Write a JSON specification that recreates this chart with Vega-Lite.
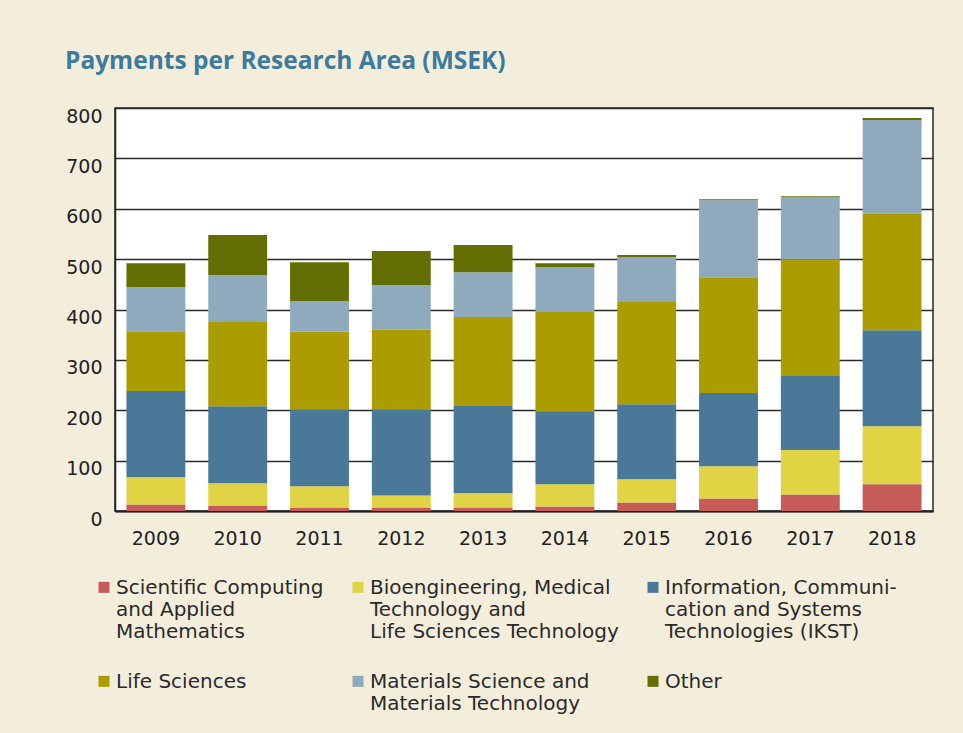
{
  "$schema": "https://vega.github.io/schema/vega-lite/v6.json",
  "width": 818,
  "height": 403,
  "autosize": {"type": "none"},
  "padding": {"left": 115, "top": 108, "right": 30, "bottom": 222},
  "background": "#F3EEDC",
  "title": {
    "text": "Payments per Research Area (MSEK)",
    "anchor": "start",
    "frame": "group",
    "dx": -50,
    "offset": 14,
    "baseline": "alphabetic",
    "font": "Open Sans",
    "fontSize": 24.5,
    "fontWeight": "bold",
    "color": "#3C7B9E"
  },
  "config": {
    "font": "DejaVu Sans",
    "view": {"stroke": "#2A2A2A", "strokeWidth": 1.5, "fill": "white"}
  },
  "data": {
    "values": [
      {"year": "2009", "area": "Scientific Computing|and Applied|Mathematics", "value": 13},
      {"year": "2009", "area": "Bioengineering, Medical|Technology and|Life Sciences Technology", "value": 54},
      {"year": "2009", "area": "Information, Communi-|cation and Systems|Technologies (IKST)", "value": 171},
      {"year": "2009", "area": "Life Sciences", "value": 119},
      {"year": "2009", "area": "Materials Science and|Materials Technology", "value": 87},
      {"year": "2009", "area": "Other", "value": 48},
      {"year": "2010", "area": "Scientific Computing|and Applied|Mathematics", "value": 11},
      {"year": "2010", "area": "Bioengineering, Medical|Technology and|Life Sciences Technology", "value": 44},
      {"year": "2010", "area": "Information, Communi-|cation and Systems|Technologies (IKST)", "value": 153},
      {"year": "2010", "area": "Life Sciences", "value": 167},
      {"year": "2010", "area": "Materials Science and|Materials Technology", "value": 93},
      {"year": "2010", "area": "Other", "value": 80},
      {"year": "2011", "area": "Scientific Computing|and Applied|Mathematics", "value": 7},
      {"year": "2011", "area": "Bioengineering, Medical|Technology and|Life Sciences Technology", "value": 42},
      {"year": "2011", "area": "Information, Communi-|cation and Systems|Technologies (IKST)", "value": 153},
      {"year": "2011", "area": "Life Sciences", "value": 154},
      {"year": "2011", "area": "Materials Science and|Materials Technology", "value": 61},
      {"year": "2011", "area": "Other", "value": 77},
      {"year": "2012", "area": "Scientific Computing|and Applied|Mathematics", "value": 7},
      {"year": "2012", "area": "Bioengineering, Medical|Technology and|Life Sciences Technology", "value": 24},
      {"year": "2012", "area": "Information, Communi-|cation and Systems|Technologies (IKST)", "value": 171},
      {"year": "2012", "area": "Life Sciences", "value": 158},
      {"year": "2012", "area": "Materials Science and|Materials Technology", "value": 88},
      {"year": "2012", "area": "Other", "value": 68},
      {"year": "2013", "area": "Scientific Computing|and Applied|Mathematics", "value": 7},
      {"year": "2013", "area": "Bioengineering, Medical|Technology and|Life Sciences Technology", "value": 28},
      {"year": "2013", "area": "Information, Communi-|cation and Systems|Technologies (IKST)", "value": 175},
      {"year": "2013", "area": "Life Sciences", "value": 175},
      {"year": "2013", "area": "Materials Science and|Materials Technology", "value": 89},
      {"year": "2013", "area": "Other", "value": 54},
      {"year": "2014", "area": "Scientific Computing|and Applied|Mathematics", "value": 9},
      {"year": "2014", "area": "Bioengineering, Medical|Technology and|Life Sciences Technology", "value": 44},
      {"year": "2014", "area": "Information, Communi-|cation and Systems|Technologies (IKST)", "value": 145},
      {"year": "2014", "area": "Life Sciences", "value": 197},
      {"year": "2014", "area": "Materials Science and|Materials Technology", "value": 89},
      {"year": "2014", "area": "Other", "value": 8},
      {"year": "2015", "area": "Scientific Computing|and Applied|Mathematics", "value": 17},
      {"year": "2015", "area": "Bioengineering, Medical|Technology and|Life Sciences Technology", "value": 46},
      {"year": "2015", "area": "Information, Communi-|cation and Systems|Technologies (IKST)", "value": 149},
      {"year": "2015", "area": "Life Sciences", "value": 203},
      {"year": "2015", "area": "Materials Science and|Materials Technology", "value": 89},
      {"year": "2015", "area": "Other", "value": 4},
      {"year": "2016", "area": "Scientific Computing|and Applied|Mathematics", "value": 25},
      {"year": "2016", "area": "Bioengineering, Medical|Technology and|Life Sciences Technology", "value": 64},
      {"year": "2016", "area": "Information, Communi-|cation and Systems|Technologies (IKST)", "value": 145},
      {"year": "2016", "area": "Life Sciences", "value": 230},
      {"year": "2016", "area": "Materials Science and|Materials Technology", "value": 153},
      {"year": "2016", "area": "Other", "value": 2},
      {"year": "2017", "area": "Scientific Computing|and Applied|Mathematics", "value": 33},
      {"year": "2017", "area": "Bioengineering, Medical|Technology and|Life Sciences Technology", "value": 88},
      {"year": "2017", "area": "Information, Communi-|cation and Systems|Technologies (IKST)", "value": 147},
      {"year": "2017", "area": "Life Sciences", "value": 232},
      {"year": "2017", "area": "Materials Science and|Materials Technology", "value": 123},
      {"year": "2017", "area": "Other", "value": 2},
      {"year": "2018", "area": "Scientific Computing|and Applied|Mathematics", "value": 53},
      {"year": "2018", "area": "Bioengineering, Medical|Technology and|Life Sciences Technology", "value": 115},
      {"year": "2018", "area": "Information, Communi-|cation and Systems|Technologies (IKST)", "value": 191},
      {"year": "2018", "area": "Life Sciences", "value": 232},
      {"year": "2018", "area": "Materials Science and|Materials Technology", "value": 185},
      {"year": "2018", "area": "Other", "value": 4}
    ]
  },
  "transform": [
    {"calculate": "indexof(['Scientific Computing|and Applied|Mathematics', 'Bioengineering, Medical|Technology and|Life Sciences Technology', 'Information, Communi-|cation and Systems|Technologies (IKST)', 'Life Sciences', 'Materials Science and|Materials Technology', 'Other'], datum.area)", "as": "stackOrder"}
  ],
  "mark": {"type": "bar"},
  "encoding": {
    "x": {
      "field": "year",
      "type": "ordinal",
      "scale": {"paddingInner": 0.28, "paddingOuter": 0.14},
      "axis": {
        "title": null,
        "labelAngle": 0,
        "labelFontSize": 19,
        "labelColor": "#222222",
        "labelPadding": 18,
        "ticks": false,
        "domainColor": "#222222",
        "domainWidth": 2,
        "grid": false
      }
    },
    "y": {
      "field": "value",
      "type": "quantitative",
      "stack": "zero",
      "scale": {"domain": [0, 800], "nice": false},
      "axis": {
        "title": null,
        "values": [0, 100, 200, 300, 400, 500, 600, 700, 800],
        "labelFontSize": 19,
        "labelColor": "#222222",
        "labelPadding": 13,
        "labelOffset": 8,
        "ticks": false,
        "domainColor": "#222222",
        "domainWidth": 1.5,
        "gridColor": "#2A2A2A",
        "gridWidth": 1.5,
        "gridOpacity": 1
      }
    },
    "order": {"field": "stackOrder", "type": "quantitative", "sort": "ascending"},
    "color": {
      "field": "area",
      "type": "nominal",
      "scale": {
        "domain": [
          "Scientific Computing|and Applied|Mathematics",
          "Bioengineering, Medical|Technology and|Life Sciences Technology",
          "Information, Communi-|cation and Systems|Technologies (IKST)",
          "Life Sciences",
          "Materials Science and|Materials Technology",
          "Other"
        ],
        "range": ["#C55C5A", "#E0D445", "#4A7898", "#AB9C00", "#8FAABC", "#646F03"]
      },
      "legend": {
        "title": null,
        "orient": "none",
        "legendX": -21,
        "legendY": 460,
        "direction": "horizontal",
        "columns": 3,
        "columnPadding": 24,
        "rowPadding": 20,
        "symbolType": "M-1,0.7L1,0.7L1,2.7L-1,2.7Z",
        "symbolSize": 121,
        "symbolStrokeWidth": 0,
        "labelFont": "DejaVu Sans",
        "labelFontSize": 20,
        "labelColor": "#2A2A2A",
        "labelLimit": 400,
        "labelBaseline": "top",
        "labelOffset": 2,
        "labelExpr": "split(datum.label, '|')"
      }
    }
  }
}
